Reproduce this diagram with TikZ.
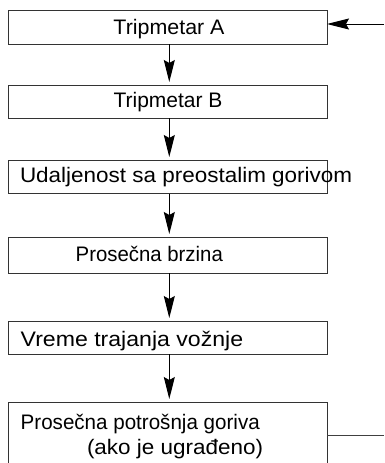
\documentclass[tikz,border=0pt]{standalone}
\usepackage{fontspec}
\setmainfont{Liberation Sans}
\usetikzlibrary{arrows.meta}
\newcommand{\sx}[2]{\scalebox{#1}[1]{#2}}
\begin{document}
\begin{tikzpicture}[x=1pt,y=-1pt,
  box/.style={draw=black!80,line width=1pt,rectangle,inner sep=0pt,outer sep=0pt,minimum width=318.5pt},
  lbl/.style={inner sep=0pt,outer sep=0pt,font=\fontsize{21}{25}\selectfont,anchor=base west},
  lblc/.style={inner sep=0pt,outer sep=0pt,font=\fontsize{21}{25}\selectfont,anchor=base},
  conn/.style={draw=black,line width=1pt,-{Stealth[length=22pt,width=11pt,inset=3pt]}},
  plain/.style={draw=black!75,line width=1pt}]
\useasboundingbox (0,0) rectangle (384,463);
\node[box,minimum height=33.5pt] (b1) at (167.75,27.25) {};
\node[box,minimum height=33pt] (b2) at (167.75,101.5) {};
\node[box,minimum height=33.5pt] (b3) at (167.75,176.75) {};
\node[box,minimum height=36pt] (b4) at (167.75,255) {};
\node[box,minimum height=33pt] (b5) at (167.75,337.5) {};
\node[box,minimum height=80pt] (b6) at (167.75,442) {};
\node[lblc] (t1) at (169,34.5) {\sx{1.02}{Tripmetar A}};
\node[lblc] (t2) at (168,107.5) {\sx{1.0}{Tripmetar B}};
\node[lbl] (t3) at (20,182.5) {\sx{1.07}{Udaljenost sa preostalim gorivom}};
\node[lbl] (t4) at (75.7,261) {\sx{0.97}{Prosečna brzina}};
\node[lbl] (t5) at (20.7,346) {\sx{1.1}{Vreme trajanja vožnje}};
\node[lbl] (t6) at (20.7,429) {\sx{0.98}{Prosečna potrošnja goriva}};
\node[lbl] (t7) at (87,454) {\sx{1.07}{(ako je ugrađeno)}};
\coordinate (ax) at (169.3,0);
\coordinate (rin) at (384,24);
\coordinate (rout) at (384,435);
\draw[conn,shorten >=3pt] (b1.south -| ax) -- (b2.north -| ax);
\draw[conn,shorten >=3pt] (b2.south -| ax) -- (b3.north -| ax);
\draw[conn,shorten >=3pt] (b3.south -| ax) -- (b4.north -| ax);
\draw[conn,shorten >=3pt] (b4.south -| ax) -- (b5.north -| ax);
\draw[conn,shorten >=3pt] (b5.south -| ax) -- (b6.north -| ax);
\draw[conn] (rin) -- (b1.east |- rin);
\draw[plain] (b6.east |- rout) -- (rout);
\end{tikzpicture}
\end{document}
